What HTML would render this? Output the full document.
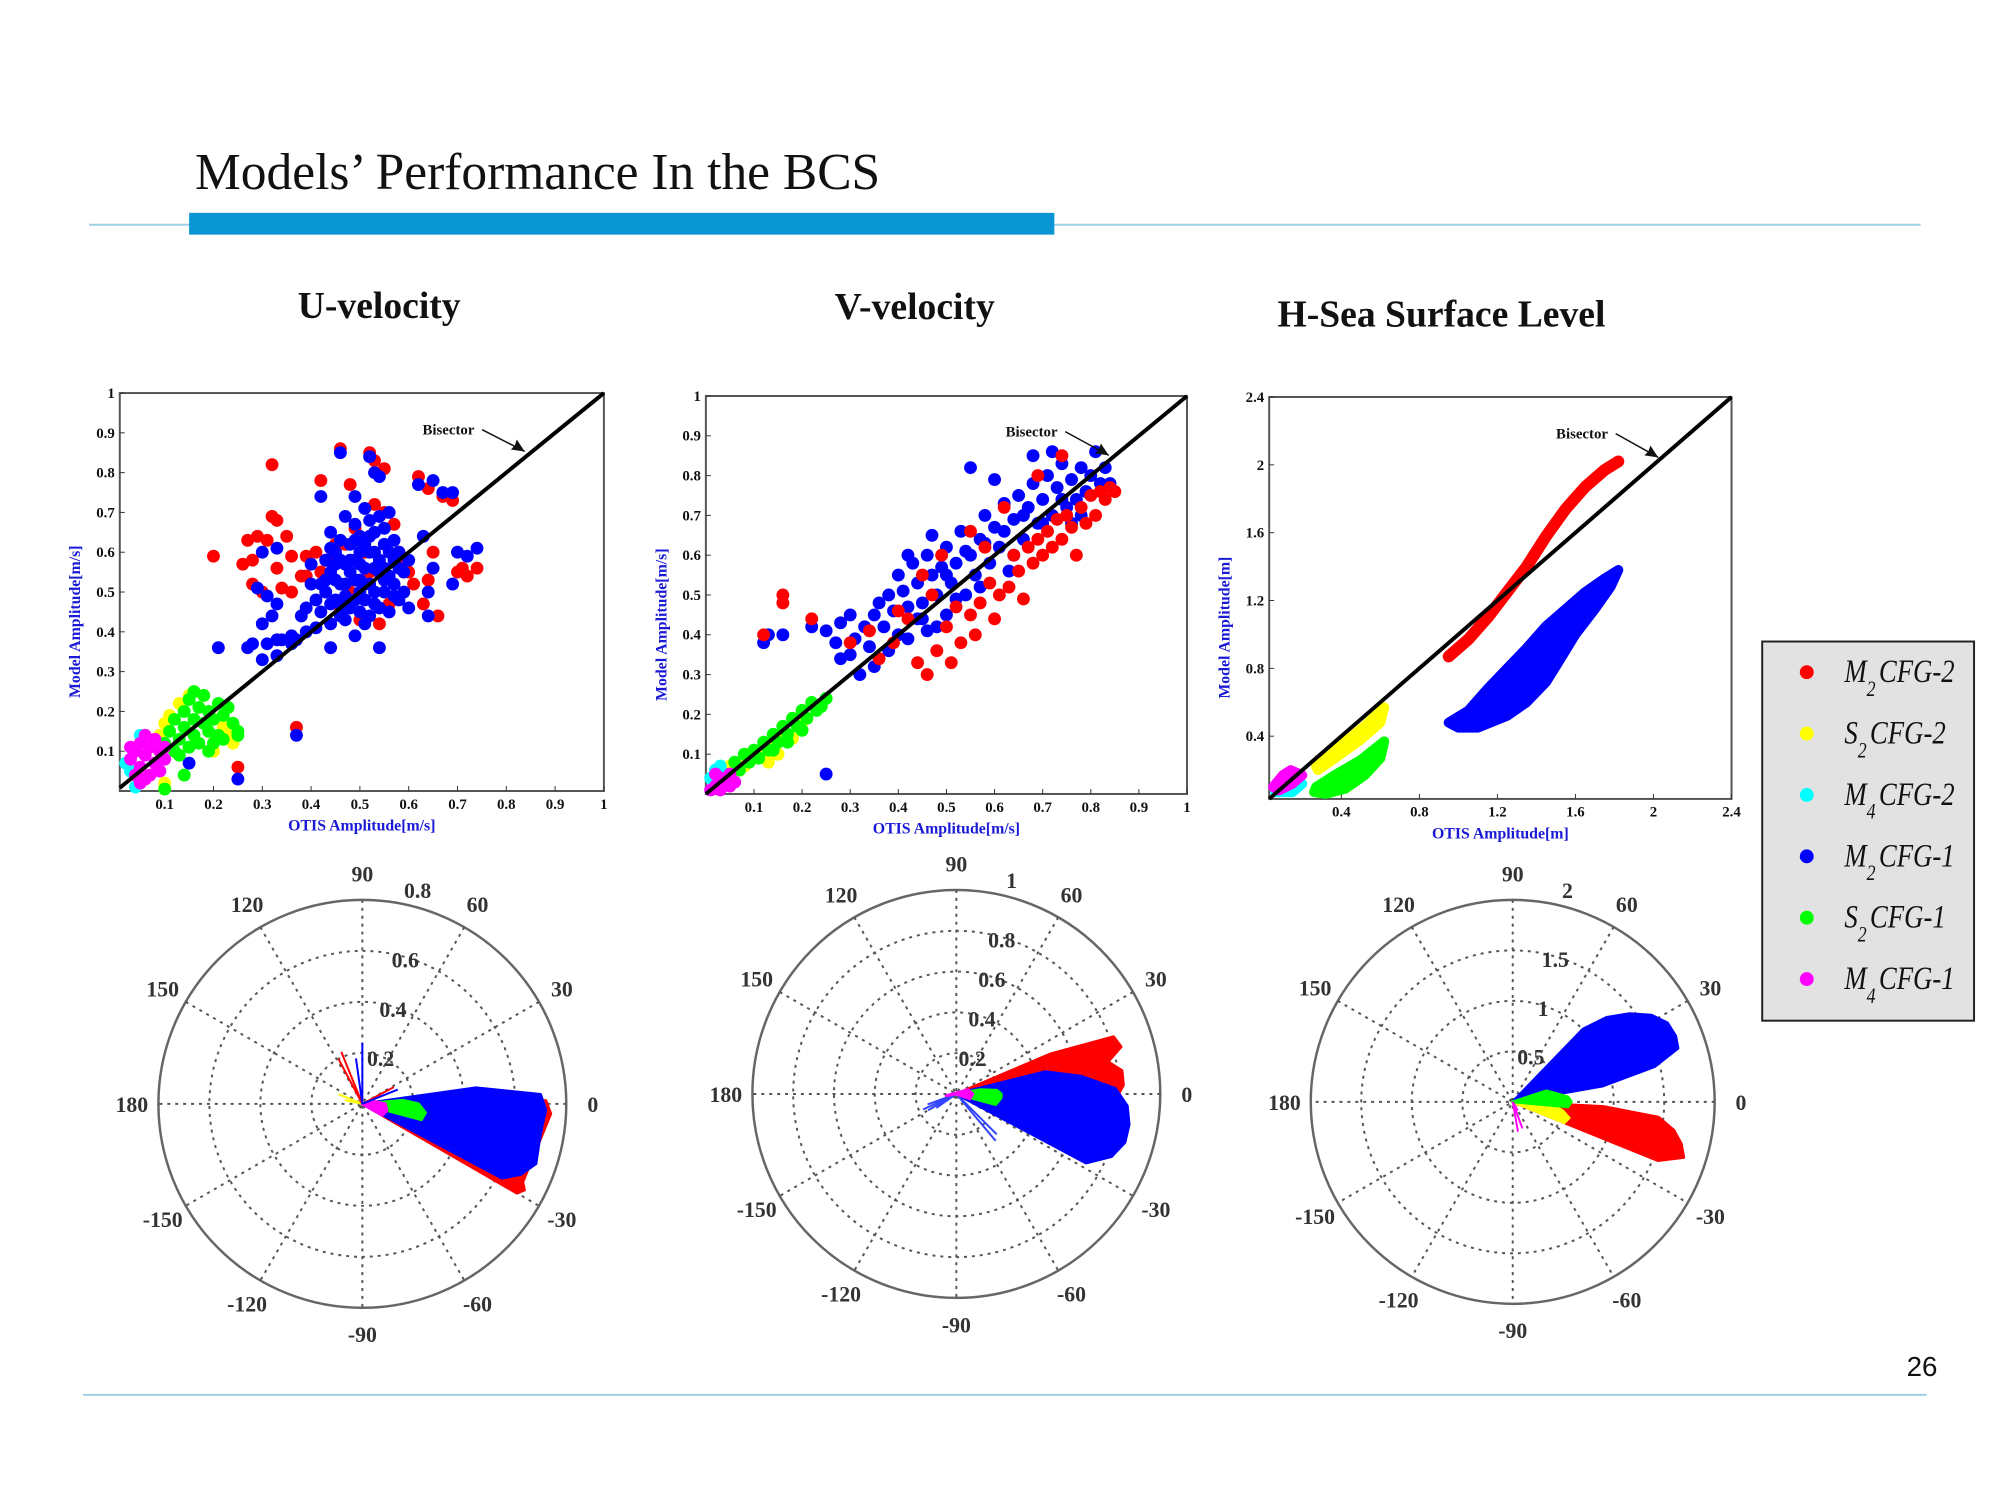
<!DOCTYPE html>
<html><head><meta charset="utf-8"><style>
html,body{margin:0;padding:0;background:#fff;}
svg{display:block;font-family:"Liberation Serif",serif;}
.tk{font-weight:bold;font-size:15px;fill:#111;}
.pl{font-weight:bold;font-size:22px;fill:#333;}
.al{font-weight:bold;font-size:16px;fill:#1a1ad6;}
</style></head><body>
<svg id="root" width="2000" height="1500" viewBox="0 0 2000 1500" xmlns="http://www.w3.org/2000/svg">
<g transform="scale(0.99)">
<text x="197" y="191" font-size="52" fill="#111">Models’ Performance In the BCS</text>
<line x1="90" y1="227" x2="1940" y2="227" stroke="#9fd0e6" stroke-width="2"/>
<rect x="191" y="215" width="874" height="22" fill="#0a96d2"/>
<line x1="84" y1="1409" x2="1946" y2="1409" stroke="#9fd0e6" stroke-width="2"/>
<text x="1957" y="1390" font-family="Liberation Sans" font-size="28" text-anchor="end" fill="#111">26</text>
<text x="383" y="321" font-size="38" font-weight="bold" text-anchor="middle" fill="#111">U-velocity</text>
<text x="924" y="322" font-size="38" font-weight="bold" text-anchor="middle" fill="#111">V-velocity</text>
<text x="1456" y="330" font-size="38" font-weight="bold" text-anchor="middle" fill="#111">H-Sea Surface Level</text>
<g id="charts"></g>
<g>
<rect x="1780" y="648" width="214" height="383" fill="#e2e2e2" stroke="#222" stroke-width="2"/>
</g>
<g id="legend"></g>
</g>
</svg>
<script>
// ---------- data ----------
const red1=[[0.46,0.86],[0.52,0.85],[0.53,0.83],[0.55,0.81],[0.32,0.82],[0.42,0.78],[0.48,0.77],[0.62,0.79],[0.64,0.76],[0.67,0.74],[0.69,0.73],[0.32,0.69],[0.33,0.68],[0.29,0.64],[0.27,0.63],[0.31,0.63],[0.35,0.64],[0.20,0.59],[0.26,0.57],[0.28,0.58],[0.33,0.56],[0.36,0.59],[0.39,0.59],[0.41,0.60],[0.43,0.58],[0.45,0.62],[0.38,0.54],[0.34,0.51],[0.28,0.52],[0.30,0.50],[0.36,0.50],[0.39,0.54],[0.42,0.55],[0.49,0.66],[0.53,0.72],[0.55,0.70],[0.57,0.67],[0.58,0.60],[0.59,0.57],[0.60,0.55],[0.61,0.52],[0.64,0.53],[0.65,0.60],[0.66,0.44],[0.63,0.47],[0.70,0.55],[0.71,0.56],[0.72,0.54],[0.74,0.56],[0.37,0.16],[0.25,0.06],[0.46,0.45],[0.50,0.43],[0.54,0.42],[0.48,0.50],[0.52,0.55],[0.44,0.58],[0.56,0.47],[0.47,0.62],[0.51,0.60]];
const blue1=[[0.46,0.85],[0.52,0.84],[0.53,0.80],[0.54,0.79],[0.42,0.74],[0.49,0.74],[0.51,0.71],[0.62,0.77],[0.65,0.78],[0.67,0.75],[0.69,0.75],[0.30,0.60],[0.33,0.61],[0.29,0.51],[0.31,0.49],[0.33,0.47],[0.32,0.44],[0.30,0.42],[0.31,0.37],[0.33,0.38],[0.34,0.38],[0.36,0.39],[0.37,0.38],[0.27,0.36],[0.28,0.37],[0.21,0.36],[0.30,0.33],[0.33,0.34],[0.36,0.37],[0.39,0.40],[0.41,0.41],[0.44,0.36],[0.49,0.39],[0.54,0.36],[0.64,0.44],[0.64,0.50],[0.65,0.56],[0.63,0.64],[0.70,0.60],[0.72,0.59],[0.74,0.61],[0.69,0.52],[0.37,0.14],[0.25,0.03],[0.15,0.07],
[0.42,0.45],[0.43,0.50],[0.44,0.55],[0.45,0.48],[0.45,0.60],[0.46,0.52],[0.46,0.44],[0.47,0.57],[0.47,0.49],[0.48,0.62],[0.48,0.46],[0.49,0.53],[0.49,0.58],[0.50,0.50],[0.50,0.45],[0.50,0.64],[0.51,0.56],[0.51,0.48],[0.52,0.60],[0.52,0.52],[0.53,0.47],[0.53,0.65],[0.54,0.55],[0.54,0.58],[0.55,0.50],[0.55,0.62],[0.56,0.54],[0.56,0.45],[0.57,0.58],[0.57,0.52],[0.58,0.48],[0.58,0.60],[0.44,0.42],[0.47,0.43],[0.51,0.42],[0.41,0.48],[0.40,0.52],[0.43,0.58],[0.46,0.63],[0.49,0.67],[0.52,0.68],[0.55,0.66],[0.59,0.55],[0.60,0.58],[0.45,0.53],[0.48,0.55],[0.50,0.57],[0.53,0.50],[0.46,0.47],[0.52,0.44],[0.39,0.46],[0.38,0.44],[0.40,0.57],[0.54,0.69],[0.56,0.70],[0.47,0.69],[0.44,0.65],[0.57,0.63],[0.59,0.50],[0.60,0.46],
[0.43,0.53],[0.44,0.47],[0.47,0.52],[0.48,0.58],[0.49,0.48],[0.50,0.60],[0.51,0.52],[0.52,0.64],[0.53,0.56],[0.54,0.46],[0.55,0.56],[0.56,0.60],[0.57,0.49],[0.45,0.57],[0.46,0.58],[0.47,0.46],[0.50,0.53],[0.53,0.60],[0.55,0.53],[0.49,0.63],[0.42,0.52],[0.44,0.61],[0.58,0.56],[0.51,0.62]];
const yellow1=[[0.10,0.17],[0.11,0.19],[0.13,0.22],[0.15,0.24],[0.18,0.24],[0.22,0.16],[0.23,0.14],[0.24,0.12],[0.20,0.10],[0.09,0.14],[0.10,0.02],[0.08,0.13]];
const green1=[[0.10,0.12],[0.11,0.15],[0.12,0.18],[0.13,0.13],[0.14,0.20],[0.14,0.16],[0.15,0.23],[0.15,0.11],[0.16,0.18],[0.16,0.14],[0.17,0.21],[0.17,0.12],[0.18,0.17],[0.18,0.24],[0.19,0.15],[0.19,0.20],[0.20,0.12],[0.20,0.18],[0.21,0.22],[0.21,0.14],[0.22,0.19],[0.23,0.21],[0.24,0.17],[0.25,0.15],[0.25,0.14],[0.13,0.09],[0.12,0.10],[0.14,0.04],[0.10,0.005],[0.16,0.25],[0.19,0.10],[0.22,0.13]];
const cyan1=[[0.02,0.07],[0.03,0.05],[0.05,0.14],[0.04,0.01]];
const magenta1=[[0.03,0.08],[0.04,0.10],[0.05,0.12],[0.05,0.06],[0.06,0.14],[0.06,0.09],[0.07,0.04],[0.07,0.11],[0.08,0.07],[0.08,0.13],[0.09,0.10],[0.09,0.05],[0.10,0.08],[0.04,0.04],[0.05,0.02],[0.06,0.03],[0.10,0.11],[0.03,0.11]];

const blue2=[[0.12,0.38],[0.13,0.40],[0.16,0.40],[0.22,0.42],[0.25,0.41],[0.27,0.38],[0.28,0.43],[0.30,0.35],[0.31,0.39],[0.33,0.42],[0.34,0.37],[0.35,0.45],[0.36,0.48],[0.37,0.42],[0.38,0.50],[0.39,0.46],[0.40,0.40],[0.40,0.55],[0.41,0.51],[0.42,0.47],[0.43,0.58],[0.44,0.53],[0.45,0.48],[0.45,0.44],[0.46,0.60],[0.47,0.55],[0.48,0.50],[0.49,0.57],[0.50,0.62],[0.50,0.45],[0.51,0.53],[0.52,0.58],[0.53,0.66],[0.54,0.50],[0.55,0.60],[0.56,0.55],[0.57,0.64],[0.58,0.70],[0.59,0.58],[0.60,0.67],[0.61,0.62],[0.62,0.73],[0.63,0.56],[0.64,0.69],[0.65,0.75],[0.66,0.64],[0.67,0.72],[0.68,0.78],[0.69,0.68],[0.70,0.74],[0.71,0.80],[0.72,0.70],[0.73,0.77],[0.74,0.83],[0.75,0.72],[0.76,0.79],[0.77,0.74],[0.78,0.82],[0.79,0.76],[0.80,0.80],[0.81,0.86],[0.82,0.78],[0.83,0.82],[0.84,0.78],[0.76,0.68],[0.68,0.85],[0.72,0.86],[0.55,0.82],[0.60,0.79],[0.38,0.36],[0.42,0.39],[0.46,0.41],[0.50,0.55],[0.54,0.61],[0.58,0.63],[0.62,0.66],[0.66,0.70],[0.70,0.68],[0.74,0.74],[0.78,0.70],[0.44,0.44],[0.48,0.42],[0.52,0.49],[0.57,0.52],[0.64,0.60],[0.35,0.32],[0.32,0.30],[0.28,0.34],[0.25,0.05],[0.30,0.45],[0.42,0.60],[0.47,0.65]];
const red2=[[0.12,0.40],[0.16,0.50],[0.16,0.48],[0.22,0.44],[0.30,0.38],[0.34,0.41],[0.36,0.34],[0.39,0.38],[0.42,0.44],[0.44,0.33],[0.46,0.30],[0.48,0.36],[0.50,0.42],[0.52,0.47],[0.53,0.38],[0.55,0.45],[0.57,0.48],[0.59,0.53],[0.60,0.44],[0.61,0.50],[0.63,0.52],[0.64,0.60],[0.65,0.56],[0.66,0.49],[0.67,0.62],[0.68,0.58],[0.69,0.64],[0.70,0.60],[0.71,0.66],[0.72,0.62],[0.73,0.69],[0.74,0.64],[0.75,0.70],[0.76,0.67],[0.77,0.60],[0.78,0.72],[0.79,0.68],[0.80,0.75],[0.81,0.70],[0.82,0.76],[0.83,0.74],[0.84,0.77],[0.85,0.76],[0.45,0.55],[0.49,0.60],[0.55,0.66],[0.62,0.72],[0.58,0.62],[0.40,0.46],[0.47,0.50],[0.74,0.85],[0.69,0.80],[0.51,0.33],[0.56,0.40]];
const yellow2=[[0.05,0.07],[0.08,0.07],[0.10,0.09],[0.12,0.10],[0.14,0.12],[0.16,0.14],[0.18,0.14],[0.20,0.18],[0.13,0.08],[0.15,0.10]];
const green2=[[0.04,0.05],[0.06,0.08],[0.07,0.06],[0.08,0.10],[0.09,0.08],[0.10,0.11],[0.11,0.09],[0.12,0.13],[0.13,0.11],[0.14,0.15],[0.15,0.13],[0.16,0.17],[0.17,0.15],[0.18,0.19],[0.19,0.17],[0.20,0.21],[0.21,0.19],[0.22,0.23],[0.23,0.21],[0.24,0.22],[0.25,0.24],[0.14,0.11],[0.17,0.13],[0.20,0.16]];
const cyan2=[[0.01,0.04],[0.02,0.06],[0.03,0.07]];
const magenta2=[[0.01,0.01],[0.02,0.02],[0.03,0.01],[0.04,0.03],[0.05,0.02],[0.03,0.04],[0.02,0.05],[0.05,0.05],[0.06,0.03]];

const red3=[[0.95,0.87],[1.05,0.97],[1.15,1.10],[1.25,1.25],[1.35,1.40],[1.45,1.58],[1.55,1.74],[1.65,1.87],[1.75,1.97],[1.82,2.02]];
const blue3=[[0.95,0.48],[1.05,0.55],[1.15,0.68],[1.25,0.80],[1.35,0.92],[1.45,1.05],[1.55,1.15],[1.65,1.25],[1.75,1.33],[1.82,1.38],[1.78,1.28],[1.70,1.15],[1.60,1.00],[1.52,0.85],[1.45,0.72],[1.35,0.60],[1.25,0.52],[1.10,0.45],[1.00,0.45]];
const yellow3=[[0.27,0.22],[0.40,0.35],[0.52,0.46],[0.62,0.57],[0.60,0.48],[0.50,0.38],[0.38,0.28],[0.28,0.20]];
const green3=[[0.27,0.10],[0.38,0.18],[0.50,0.26],[0.62,0.37],[0.60,0.27],[0.52,0.17],[0.42,0.09],[0.32,0.06],[0.26,0.07]];
const cyan3=[[0.06,0.07],[0.14,0.10],[0.20,0.12],[0.15,0.07]];
const magenta3=[[0.05,0.10],[0.10,0.17],[0.14,0.20],[0.20,0.17],[0.15,0.12],[0.08,0.08]];

const ticks1=[0.1,0.2,0.3,0.4,0.5,0.6,0.7,0.8,0.9,1];
const ticks3x=[0.4,0.8,1.2,1.6,2,2.4];
const ticks3y=[0.4,0.8,1.2,1.6,2,2.4];

// polar data: angles (deg) and magnitudes
const p1RedAng=[-30,-28,-26,-3,1], p1RedMag=[0.70,0.72,0.70,0.74,0.72];
const p1BlueAng=[-28,-24,-19,-13,-7,-2,3,8], p1BlueMag=[0.62,0.68,0.72,0.71,0.71,0.72,0.70,0.45];
const p1GreenAng=[-15,-8,0,5], p1GreenMag=[0.24,0.25,0.22,0.16];
const p1YellowAng=[-12,158,168], p1YellowMag=[0.2,0.1,0.07];
const p1MagentaAng=[-30,-15,0,10], p1MagentaMag=[0.09,0.1,0.09,0.05];
const p1RayRedAng=[112,118,28], p1RayRedMag=[0.22,0.2,0.14];
const p1RayBlueAng=[90,98,22], p1RayBlueMag=[0.24,0.18,0.15];

const p2BlueAng=[-28,-22,-16,-10,-4,2,8,14], p2BlueMag=[0.72,0.82,0.86,0.86,0.84,0.78,0.62,0.45];
const p2RedAng=[-2,3,8,12,16,20,23], p2RedMag=[0.78,0.82,0.82,0.76,0.84,0.82,0.5];
const p2GreenAng=[-15,-5,0,5,10], p2GreenMag=[0.20,0.22,0.22,0.2,0.12];
const p2MagentaAng=[-20,0,20,190], p2MagentaMag=[0.07,0.08,0.06,0.05];
const p2RayBlueAng=[200,205,210,215,-50,-45], p2RayBlueMag=[0.15,0.18,0.16,0.12,0.3,0.28];

const p3BlueAng=[10,14,18,22,27,32,37,42,46], p3BlueMag=[0.9,1.45,1.72,1.74,1.72,1.62,1.45,1.25,1.0];
const p3RedAng=[-22,-18,-14,-10,-6,-3], p3RedMag=[1.55,1.78,1.72,1.62,1.45,0.9];
const p3GreenAng=[-5,0,5,10,18], p3GreenMag=[0.55,0.58,0.55,0.45,0.35];
const p3YellowAng=[-22,-16,-10,-5], p3YellowMag=[0.55,0.58,0.5,0.4];
const p3MagentaAng=[-80,-70,-60], p3MagentaMag=[0.3,0.28,0.1];

const legendLabels=[["M","2","CFG-2"],["S","2","CFG-2"],["M","4","CFG-2"],["M","2","CFG-1"],["S","2","CFG-1"],["M","4","CFG-1"]];
const legendColors=["#ff0000","#ffff00","#00ffff","#0000ff","#00ff00","#ff00ff"];

// ---------- drawing ----------
const NS="http://www.w3.org/2000/svg";
const charts=document.getElementById('charts');
function mk(tag,attrs,parent,text){const e=document.createElementNS(NS,tag);for(const k in attrs)e.setAttribute(k,attrs[k]);if(text!==undefined)e.textContent=text;(parent||charts).appendChild(e);return e;}
function lin(d0,d1,r0,r1){return v=>r0+(v-d0)/(d1-d0)*(r1-r0);}

function scatter(cfg){
  const g=mk('g',{});
  
  
  const X=lin(cfg.xd[0],cfg.xd[1],cfg.L,cfg.R), Y=lin(cfg.yd[0],cfg.yd[1],cfg.B,cfg.T);
  const fr=mk('rect',{x:cfg.L,y:cfg.T,width:cfg.R-cfg.L,height:cfg.B-cfg.T,fill:'#fff',stroke:'#555','stroke-width':2},g);
  
  
  cfg.xt.forEach(t=>{const x=X(t);mk('line',{x1:x,y1:cfg.B,x2:x,y2:cfg.B-5,stroke:'#333'},g);
    const l=mk('text',{x:x,y:cfg.B+18,'text-anchor':'middle',class:'tk'},g,String(t));
    
    });
  cfg.yt.forEach(t=>{const y=Y(t);mk('line',{x1:cfg.L,y1:y,x2:cfg.L+5,y2:y,stroke:'#333'},g);
    const l=mk('text',{x:cfg.L-5,y:y+5,'text-anchor':'end',class:'tk'},g,String(t));
    
    });
  cfg.series.forEach(s=>{
    const sg=mk('g',{fill:s.c},g);
    
    
    if(s.type==='band'){mk('polyline',{points:s.d.map(p=>X(p[0])+','+Y(p[1])).join(' '),fill:'none',stroke:s.c,'stroke-width':s.w,'stroke-linecap':'round','stroke-linejoin':'round'},sg);}
    else if(s.type==='area'){mk('polygon',{points:s.d.map(p=>X(p[0])+','+Y(p[1])).join(' '),fill:s.c,stroke:s.c,'stroke-width':10,'stroke-linejoin':'round'},sg);}
    else s.d.forEach(p=>{const c=mk('circle',{cx:X(p[0]),cy:Y(p[1]),r:6.5},sg);
      
      });
  });
  const bis=mk('line',{x1:X(Math.max(cfg.xd[0],cfg.yd[0])),y1:Y(Math.max(cfg.xd[0],cfg.yd[0])),x2:X(cfg.xd[1]),y2:Y(cfg.yd[1]),stroke:'#000','stroke-width':4},g);
  
  
  const bt=mk('text',{x:cfg.bis[0],y:cfg.bis[1],'font-size':15,'font-weight':'bold','text-anchor':'middle',fill:'#111'},g,'Bisector');
  
  
  const ax=cfg.bis[2],ay=cfg.bis[3];
  mk('line',{x1:cfg.bis[0]+34,y1:cfg.bis[1]-5,x2:ax,y2:ay,stroke:'#111','stroke-width':1.5},g);
  mk('path',{d:`M${ax},${ay} l-14,-2 l4,-4 l2,-6 z`,fill:'#111'},g);
  const xl=mk('text',{x:(cfg.L+cfg.R)/2,y:cfg.B+40,'text-anchor':'middle',class:'al'},g,cfg.xlab);
  
  
  const yx=cfg.L-40,yy=(cfg.T+cfg.B)/2+30;
  const yl=mk('text',{x:yx,y:yy,transform:`rotate(-90 ${yx} ${yy})`,'text-anchor':'middle',class:'al'},g,cfg.ylab);
  
  
}

scatter({name:'u-velocity-scatter',L:121,R:610,T:397,B:799,xd:[0.008,1],yd:[0,1],xt:ticks1,yt:ticks1,
  xlab:'OTIS Amplitude[m/s]',ylab:'Model Amplitude[m/s]',bis:[453,439,530,456],
  series:[{n:'m2-cfg2',c:'#ff0000',d:red1},{n:'m2-cfg1',c:'#0000ff',d:blue1},{n:'s2-cfg2',c:'#ffff00',d:yellow1},{n:'s2-cfg1',c:'#00ff00',d:green1},{n:'m4-cfg2',c:'#00ffff',d:cyan1},{n:'m4-cfg1',c:'#ff00ff',d:magenta1}]});
scatter({name:'v-velocity-scatter',L:713,R:1199,T:400,B:802,xd:[0,1],yd:[0,1],xt:ticks1,yt:ticks1,
  xlab:'OTIS Amplitude[m/s]',ylab:'Model Amplitude[m/s]',bis:[1042,441,1120,460],
  series:[{n:'m2-cfg1',c:'#0000ff',d:blue2},{n:'m2-cfg2',c:'#ff0000',d:red2},{n:'s2-cfg2',c:'#ffff00',d:yellow2},{n:'s2-cfg1',c:'#00ff00',d:green2},{n:'m4-cfg2',c:'#00ffff',d:cyan2},{n:'m4-cfg1',c:'#ff00ff',d:magenta2}]});
scatter({name:'sea-level-scatter',L:1282,R:1749,T:401,B:807,xd:[0.03,2.4],yd:[0.03,2.4],xt:ticks3x,yt:ticks3y,
  xlab:'OTIS Amplitude[m]',ylab:'Model Amplitude[m]',bis:[1598,443,1675,462],
  series:[{n:'m2-cfg2',c:'#ff0000',d:red3,type:'band',w:12},{n:'m2-cfg1',c:'#0000ff',d:blue3,type:'area'},{n:'s2-cfg2',c:'#ffff00',d:yellow3,type:'area'},{n:'s2-cfg1',c:'#00ff00',d:green3,type:'area'},{n:'m4-cfg2',c:'#00ffff',d:cyan3,type:'area'},{n:'m4-cfg1',c:'#ff00ff',d:magenta3,type:'area'}]});

function polar(cfg){
  const g=mk('g',{});
  
  
  const {cx,cy,r,rmax}=cfg;
  const P=(a,m)=>[cx+m/rmax*r*Math.cos(a*Math.PI/180),cy-m/rmax*r*Math.sin(a*Math.PI/180)];
  cfg.rings.forEach((v,i)=>{const rr=v/rmax*r;
    mk('circle',{cx,cy,r:rr,fill:'none',stroke:i===cfg.rings.length-1?'#666':'#555','stroke-width':i===cfg.rings.length-1?2.5:2,'stroke-dasharray':i===cfg.rings.length-1?'none':'3,5'},g);
    const q=P(76,v);
    const t=mk('text',{x:q[0]+6,y:q[1]+(i===cfg.rings.length-1?-8:12),class:'pl','text-anchor':'middle'},g,String(v));
    
    });
  for(let a=0;a<180;a+=30){const p1=P(a,rmax),p2=P(a+180,rmax);
    mk('line',{x1:p1[0],y1:p1[1],x2:p2[0],y2:p2[1],stroke:'#555','stroke-width':2,'stroke-dasharray':'3,5'},g);}
  const lab={0:'0',30:'30',60:'60',90:'90',120:'120',150:'150',180:'180',210:'-150',240:'-120',270:'-90',300:'-60',330:'-30'};
  for(const a in lab){const q=P(+a,rmax*1.13);
    const t=mk('text',{x:q[0],y:q[1]+8,class:'pl','text-anchor':'middle'},g,lab[a]);
    
    }
  cfg.series.forEach(s=>{
    const sg=mk('g',{},g);
    
    
    if(s.rays){s.a.forEach((a,i)=>{const q=P(a,s.m[i]);mk('line',{x1:cx,y1:cy,x2:q[0],y2:q[1],stroke:s.c,'stroke-width':2},sg);});}
    else{const pts=[[cx,cy]].concat(s.a.map((a,i)=>P(a,s.m[i])));
      mk('polygon',{points:pts.map(p=>p.join(',')).join(' '),fill:s.c,stroke:s.c,'stroke-width':3,'stroke-linejoin':'round'},sg);}
  });
}
polar({name:'u-velocity-polar',cx:366,cy:1115,r:206,rmax:0.8,rings:[0.2,0.4,0.6,0.8],series:[
  {n:'m2-cfg2',c:'#ff0000',a:p1RedAng,m:p1RedMag},{n:'m2-cfg1',c:'#0000ff',a:p1BlueAng,m:p1BlueMag},
  {n:'s2-cfg2',c:'#ffff00',a:p1YellowAng,m:p1YellowMag,rays:true},{n:'s2-cfg1',c:'#00ff00',a:p1GreenAng,m:p1GreenMag},
  {n:'m4-cfg1',c:'#ff00ff',a:p1MagentaAng,m:p1MagentaMag},
  {n:'m2-cfg2-rays',c:'#ff0000',a:p1RayRedAng,m:p1RayRedMag,rays:true},{n:'m2-cfg1-rays',c:'#0000ff',a:p1RayBlueAng,m:p1RayBlueMag,rays:true}]});
polar({name:'v-velocity-polar',cx:966,cy:1105,r:206,rmax:1,rings:[0.2,0.4,0.6,0.8,1],series:[
  {n:'m2-cfg2',c:'#ff0000',a:p2RedAng,m:p2RedMag},{n:'m2-cfg1',c:'#0000ff',a:p2BlueAng,m:p2BlueMag},
  {n:'m2-cfg1-rays',c:'#3344ff',a:p2RayBlueAng,m:p2RayBlueMag,rays:true},
  {n:'s2-cfg1',c:'#00ff00',a:p2GreenAng,m:p2GreenMag},{n:'m4-cfg1',c:'#ff00ff',a:p2MagentaAng,m:p2MagentaMag}]});
polar({name:'sea-level-polar',cx:1528,cy:1113,r:204,rmax:2,rings:[0.5,1,1.5,2],series:[
  {n:'m2-cfg1',c:'#0000ff',a:p3BlueAng,m:p3BlueMag},{n:'m2-cfg2',c:'#ff0000',a:p3RedAng,m:p3RedMag},
  {n:'s2-cfg2',c:'#ffff00',a:p3YellowAng,m:p3YellowMag},{n:'s2-cfg1',c:'#00ff00',a:p3GreenAng,m:p3GreenMag},
  {n:'m4-cfg1',c:'#ff00ff',a:p3MagentaAng,m:p3MagentaMag,rays:true}]});

const lg=document.getElementById('legend');
legendLabels.forEach((l,i)=>{
  const y=679+i*62;
  const e=mk('g',{},lg);
  
  
  mk('circle',{cx:1825,cy:y,r:7,fill:legendColors[i]},e);
  const t=mk('text',{transform:`translate(1863 ${y+10}) scale(0.82 1)`,'font-size':33,'font-style':'italic',fill:'#111'},e);
  mk('tspan',{},t,l[0]);
  mk('tspan',{dy:14,'font-size':22},t,l[1]);
  mk('tspan',{dy:-14,dx:4},t,l[2]);
});
</script>
</body></html>
